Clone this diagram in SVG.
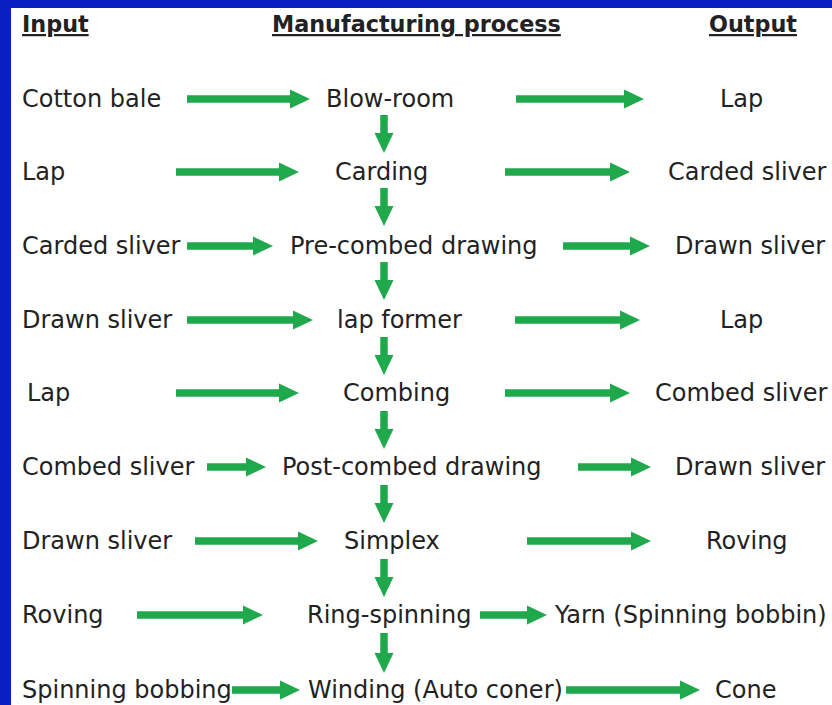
<svg xmlns="http://www.w3.org/2000/svg" width="832" height="705" viewBox="0 0 832 705">
<style>
.t{font-family:"DejaVu Sans","Liberation Sans",sans-serif;font-size:24px;fill:#222}
.h{font-family:"DejaVu Sans","Liberation Sans",sans-serif;font-size:22.3px;font-weight:bold;fill:#222;text-decoration:underline}
.a{stroke:#1fa84c;stroke-width:7.5;fill:none}
</style>
<defs>
<marker id="ah" markerUnits="userSpaceOnUse" markerWidth="20" markerHeight="20" viewBox="0 0 20 20" refX="1" refY="10" orient="auto">
<path d="M0,0.5 L20,10 L0,19.5 z" fill="#1fa84c"/>
</marker>
</defs>
<rect x="0" y="0" width="832" height="705" fill="#0a1fbf"/>
<rect x="11" y="8" width="821" height="697" fill="#ffffff"/>
<g id="headers">
<text class="h" x="22" y="32">Input</text>
<text class="h" x="272" y="32">Manufacturing process</text>
<text class="h" x="709" y="32">Output</text>
</g>
<g id="inputs">
<text class="t" x="22" y="107">Cotton bale</text>
<text class="t" x="22" y="180">Lap</text>
<text class="t" x="22" y="254">Carded sliver</text>
<text class="t" x="22" y="328">Drawn sliver</text>
<text class="t" x="27" y="401">Lap</text>
<text class="t" x="22" y="475">Combed sliver</text>
<text class="t" x="22" y="549">Drawn sliver</text>
<text class="t" x="22" y="623">Roving</text>
<text class="t" x="22" y="698">Spinning bobbing</text>
</g>
<g id="process">
<g id="blowroom"><text class="t" x="326" y="107">Blow-room</text></g>
<g id="carding"><text class="t" x="335" y="180">Carding</text></g>
<g id="precombed"><text class="t" x="290" y="254">Pre-combed drawing</text></g>
<g id="lapformer"><text class="t" x="337" y="328">lap former</text></g>
<g id="combing"><text class="t" x="343" y="401">Combing</text></g>
<g id="postcombed"><text class="t" x="282" y="475">Post-combed drawing</text></g>
<g id="simplex"><text class="t" x="344" y="549">Simplex</text></g>
<g id="ringspinning"><text class="t" x="307" y="623">Ring-spinning</text></g>
<g id="winding"><text class="t" x="308" y="698">Winding (Auto coner)</text></g>
</g>
<g id="outputs">
<text class="t" x="720" y="107">Lap</text>
<text class="t" x="668" y="180">Carded sliver</text>
<text class="t" x="675" y="254">Drawn sliver</text>
<text class="t" x="720" y="328">Lap</text>
<text class="t" x="655" y="401">Combed sliver</text>
<text class="t" x="675" y="475">Drawn sliver</text>
<text class="t" x="706" y="549">Roving</text>
<text class="t" x="555" y="623">Yarn (Spinning bobbin)</text>
<text class="t" x="715" y="698">Cone</text>
</g>
<g id="connectors" class="a" marker-end="url(#ah)">
<path d="M187,99 H291"/><path d="M516,99 H625"/>
<path d="M176,172 H280"/><path d="M505,172 H611"/>
<path d="M187,246 H254"/><path d="M563,246 H631"/>
<path d="M187,320 H294"/><path d="M515,320 H621"/>
<path d="M176,393 H280"/><path d="M505,393 H611"/>
<path d="M207,467 H247"/><path d="M578,467 H632"/>
<path d="M195,541 H299"/><path d="M527,541 H632"/>
<path d="M137,615 H244"/><path d="M480,615 H528"/>
<path d="M232,690 H281"/><path d="M566,690 H681"/>
<path d="M384,115 V134"/>
<path d="M384,188 V207"/>
<path d="M384,262 V281"/>
<path d="M384,337 V356"/>
<path d="M384,411 V430"/>
<path d="M384,485 V504"/>
<path d="M384,559 V578"/>
<path d="M384,633 V654"/>
</g>
</svg>
